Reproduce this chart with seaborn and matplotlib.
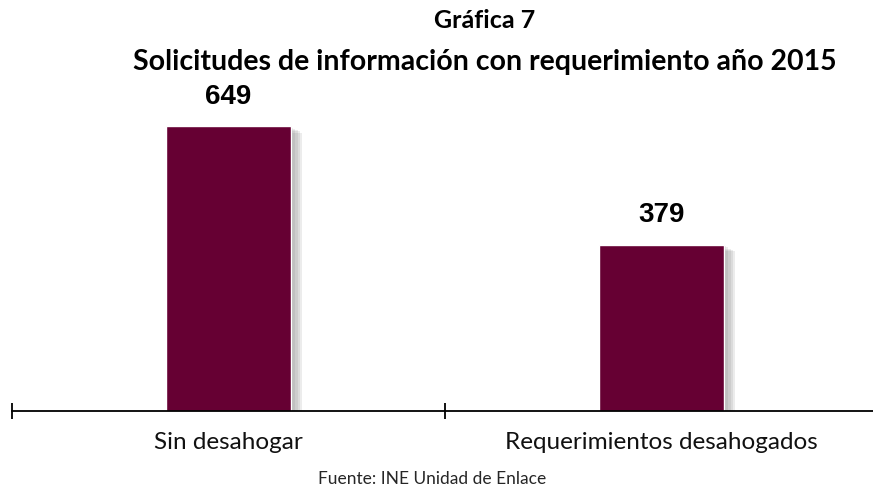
import matplotlib
matplotlib.use("Agg")
import matplotlib.pyplot as plt
import matplotlib.patheffects as pe
import seaborn as sns
import pandas as pd

# === DATOS ===
categorias = ["Sin desahogar", "Requerimientos desahogados"]
valores = [649, 379]
titulo_1 = "Gráfica 7"
titulo_2 = "Solicitudes de información con requerimiento año 2015"
fuente = "Fuente: INE Unidad de Enlace"

df = pd.DataFrame({"categoria": categorias, "valor": valores})

sns.set_style("white")
plt.rcParams["font.family"] = ["Lato", "DejaVu Sans"]

fig = plt.figure(figsize=(8.73, 4.91), dpi=100)
W, H = 873, 491
# ejes: base en y=411 px, escala ~0.439 px por unidad
ax = fig.add_axes([12 / W, (H - 411) / H, 866 / W, 307 / H])

sns.barplot(data=df, x="categoria", y="valor", color="#660033",
            width=0.29, saturation=1, ax=ax)

# sombra suave a la derecha de cada barra
sombra = [pe.SimplePatchShadow(offset=(d, -0.6 * d), shadow_rgbFace="#707070", alpha=0.13)
          for d in (1.5, 3, 4.5, 6, 7.5)]
for bar in ax.patches:
    bar.set_path_effects(sombra + [pe.Normal()])

for i, v in enumerate(valores):
    ax.annotate(str(v), xy=(i, v), xytext=(0, 12), textcoords="offset points",
                ha="center", va="bottom", fontsize=20, fontweight="bold",
                family="Liberation Sans", color="black")

ax.set_xlim(-0.5, 1.5)
ax.set_ylim(0, 700)
sns.despine(ax=ax, left=True, top=True, right=True)
ax.spines["bottom"].set_color("black")
ax.spines["bottom"].set_linewidth(1.3)
ax.set_yticks([])
ax.set_xlabel("")
ax.set_ylabel("")

ax.set_xticks(range(len(categorias)))
ax.set_xticklabels(categorias, fontsize=17.5, color="#111111")
ax.tick_params(axis="x", which="major", length=0, pad=15)
ax.set_xticks([-0.5, 0.5, 1.5], minor=True)
ax.tick_params(axis="x", which="minor", bottom=True, direction="inout", length=12,
               width=1.3, color="black")

fig.text(485 / W, 1 - 21 / H, titulo_1, ha="center", va="center",
         fontsize=18, fontweight="bold", color="black")
fig.text(485 / W, 1 - 62 / H, titulo_2, ha="center", va="center",
         fontsize=20.5, fontweight="bold", color="black")
fig.text(432 / W, 1 - 479 / H, fuente, ha="center", va="center", fontsize=12.5)

plt.savefig("out.png", dpi=100)
plt.close()
